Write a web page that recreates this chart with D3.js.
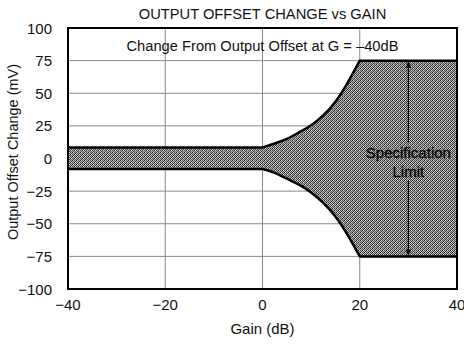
<!DOCTYPE html>
<html><head><meta charset="utf-8">
<script src="https://cdn.jsdelivr.net/npm/d3@7"></script>
<style>body{margin:0;background:#fff}svg text{font-family:"Liberation Sans",Arial,sans-serif;fill:#111}</style>
</head><body><svg id="c" width="464" height="347"></svg>
<script>
// Data
const xTicks = [-40, -20, 0, 20, 40];
const yTicks = [-100, -75, -50, -25, 0, 25, 50, 75, 100];
const gain = [-40, 0, 2.5, 5, 7.5, 10, 12.5, 15, 17.5, 20, 40];
const upper = [8.5, 8.5, 11.5, 15, 20, 25.5, 33, 43.5, 58, 75, 75];
const lower = [-8, -8, -11, -15.5, -20, -26, -34, -44.5, -58.5, -75, -75];
const specGain = 30;
const specLimits = [75, -75];
const title = "OUTPUT OFFSET CHANGE vs GAIN";
const note = "Change From Output Offset at G = \u201340dB";
const xLabel = "Gain (dB)";
const yLabel = "Output Offset Change (mV)";

const svg = d3.select("#c");
const m = {l:68, r:457, t:28, b:289};
const x = d3.scaleLinear().domain([-40, 40]).range([m.l, m.r]);
const y = d3.scaleLinear().domain([-100, 100]).range([m.b, m.t]);
const fmt = v => v < 0 ? "\u2212" + Math.abs(v) : String(v);

// pattern
const defs = svg.append("defs");
const pat = defs.append("pattern").attr("id","dots").attr("width",4).attr("height",4).attr("patternUnits","userSpaceOnUse");
pat.append("rect").attr("width",4).attr("height",4).attr("fill","#b0b0b0");
[[0,0,"#222"],[2,0,"#4a4a4a"],[1,1,"#666"],[3,1,"#3a3a3a"],[0,2,"#4a4a4a"],[2,2,"#222"],[1,3,"#3a3a3a"],[3,3,"#666"],[1,0,"#d8d8d8"],[3,2,"#dcdcdc"]]
  .forEach(([px,py,c]) => pat.append("rect").attr("x",px).attr("y",py).attr("width",1).attr("height",1).attr("fill",c));

// grid
const g = svg.append("g");
g.selectAll(".gx").data(xTicks).join("line").attr("x1",d=>x(d)).attr("x2",d=>x(d)).attr("y1",m.t).attr("y2",m.b)
  .attr("stroke","#888").attr("stroke-width",1);
g.selectAll(".gy").data(yTicks).join("line").attr("y1",d=>y(d)).attr("y2",d=>y(d)).attr("x1",m.l).attr("x2",m.r)
  .attr("stroke","#888").attr("stroke-width",1);

// band: flat segments straight, transition segment curved
const pts = gain.map((gv,i)=>({g:gv,u:upper[i],l:lower[i]}));
const first = pts[0], last = pts[pts.length-1];
const mid = pts.slice(1, -1);
const cu = d3.line().x(d=>x(d.g)).y(d=>y(d.u)).curve(d3.curveNatural);
const cl = d3.line().x(d=>x(d.g)).y(d=>y(d.l)).curve(d3.curveNatural);
const upPath = `M${x(first.g)},${y(first.u)}L` + cu(mid).slice(1) + `L${x(last.g)},${y(last.u)}`;
const loPath = `M${x(first.g)},${y(first.l)}L` + cl(mid).slice(1) + `L${x(last.g)},${y(last.l)}`;
const loRev = `L${x(last.g)},${y(last.l)}L` + cl(mid.slice().reverse()).slice(1) + `L${x(first.g)},${y(first.l)}Z`;
svg.append("path").attr("d", upPath + loRev).attr("fill","url(#dots)");
svg.append("path").attr("d",upPath).attr("fill","none").attr("stroke","#000").attr("stroke-width",2.5);
svg.append("path").attr("d",loPath).attr("fill","none").attr("stroke","#000").attr("stroke-width",2.5);

// spec arrow
defs.append("marker").attr("id","ah").attr("viewBox","0 0 10 10").attr("refX",10).attr("refY",5)
  .attr("markerWidth",6).attr("markerHeight",10).attr("orient","auto-start-reverse").attr("markerUnits","userSpaceOnUse")
  .append("path").attr("d","M0,0L10,5L0,10Z").attr("fill","#000");
svg.append("line").attr("x1",x(specGain)).attr("x2",x(specGain)).attr("y1",y(specLimits[0])+1).attr("y2",y(specLimits[1])-1)
  .attr("stroke","#000").attr("stroke-width",1.3).attr("marker-start","url(#ah)").attr("marker-end","url(#ah)");
svg.append("rect").attr("x",x(specGain)-6).attr("y",143).attr("width",12).attr("height",38).attr("fill","url(#dots)");
const st = svg.append("text").attr("x",x(specGain)).attr("text-anchor","middle").attr("font-size",15)
  .style("fill","#000").style("stroke","#000").style("stroke-width",0.3);
st.append("tspan").attr("x",x(specGain)).attr("y",158).text("Specification");
st.append("tspan").attr("x",x(specGain)).attr("y",177).text("Limit");

// frame
svg.append("rect").attr("x",m.l).attr("y",m.t).attr("width",m.r-m.l).attr("height",m.b-m.t)
  .attr("fill","none").attr("stroke","#000").attr("stroke-width",2);

// axes labels
svg.selectAll(".yt").data(yTicks).join("text").attr("x",52).attr("y",d=>y(d)+5.5).attr("text-anchor","end")
  .attr("font-size",15).text(fmt);
svg.selectAll(".xt").data(xTicks).join("text").attr("x",d=>x(d)).attr("y",310).attr("text-anchor","middle")
  .attr("font-size",15).text(fmt);
svg.append("text").attr("x",x(0)).attr("y",334).attr("text-anchor","middle").attr("font-size",15).text(xLabel);
svg.append("text").attr("transform",`translate(18,152) rotate(-90)`).attr("text-anchor","middle").attr("font-size",14.5).text(yLabel);
svg.append("text").attr("x",x(0)).attr("y",19).attr("text-anchor","middle").attr("font-size",14.7).text(title);
svg.append("text").attr("x",x(0)).attr("y",51).attr("text-anchor","middle").attr("font-size",14.7).text(note);
</script></body></html>
